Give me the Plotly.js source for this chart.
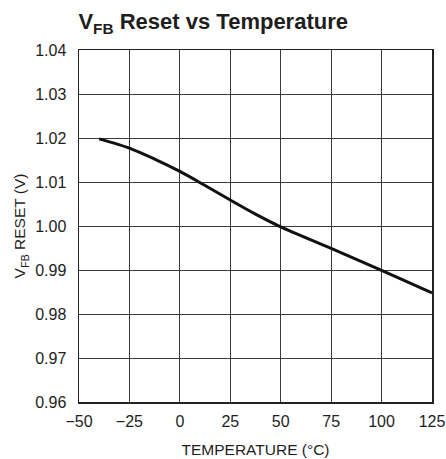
<!DOCTYPE html>
<html>
<head>
<meta charset="utf-8">
<script src="https://cdn.plot.ly/plotly-3.0.1.min.js"></script>
<style>html,body{margin:0;padding:0;background:#fff;}#chart{width:446px;height:459px;}</style>
</head>
<body>
<div id="chart"></div>
<script>
const temperature = [-40, -25, -12.5, 0, 12.5, 25, 37.5, 50, 75, 100, 125];
const vfbReset = [1.0198, 1.0177, 1.0152, 1.0124, 1.0092, 1.0059, 1.0027, 0.9998, 0.9949, 0.9899, 0.9848];
const xTicks = [-50, -25, 0, 25, 50, 75, 100, 125];
const yTicks = [0.96, 0.97, 0.98, 0.99, 1.00, 1.01, 1.02, 1.03, 1.04];

const fontFam = '"Liberation Sans", Arial, sans-serif';
const ink = '#1e1e1e';

const trace = {
  x: temperature, y: vfbReset, mode: 'lines', type: 'scatter',
  line: {color: '#111', width: 3, shape: 'spline', smoothing: 0.8},
  hoverinfo: 'skip'
};

const layout = {
  width: 446, height: 459,
  margin: {l: 79, r: 14, t: 50, b: 57},
  paper_bgcolor: '#fff', plot_bgcolor: '#fff',
  showlegend: false,
  font: {family: fontFam, color: ink, size: 16},
  title: {
    text: '<b>V<sub>FB</sub> Reset vs Temperature</b>',
    font: {family: fontFam, size: 22, color: ink},
    x: 0.478, xanchor: 'center', y: 0.953, yanchor: 'middle'
  },
  xaxis: {
    range: [-50, 125], tickvals: xTicks, ticks: '',
    showgrid: true, gridcolor: '#3a3a3a', gridwidth: 1,
    showline: true, linecolor: '#222', linewidth: 1.5, mirror: true,
    zeroline: false, ticklabelstandoff: 4,
    tickfont: {size: 16, family: fontFam, color: ink},
    title: {text: 'TEMPERATURE (°C)', font: {size: 15.5, family: fontFam, color: ink}, standoff: 15}
  },
  yaxis: {
    range: [0.96, 1.04], tickvals: yTicks, tickformat: '.2f', ticks: '',
    showgrid: true, gridcolor: '#3a3a3a', gridwidth: 1,
    showline: true, linecolor: '#222', linewidth: 1.5, mirror: true,
    zeroline: false, ticklabelstandoff: 8,
    tickfont: {size: 16, family: fontFam, color: ink},
    title: {text: 'V<sub>FB</sub> RESET (V)', font: {size: 15.5, family: fontFam, color: ink}, standoff: 5}
  }
};

Plotly.newPlot('chart', [trace], layout, {staticPlot: true, displayModeBar: false});
</script>
</body>
</html>
